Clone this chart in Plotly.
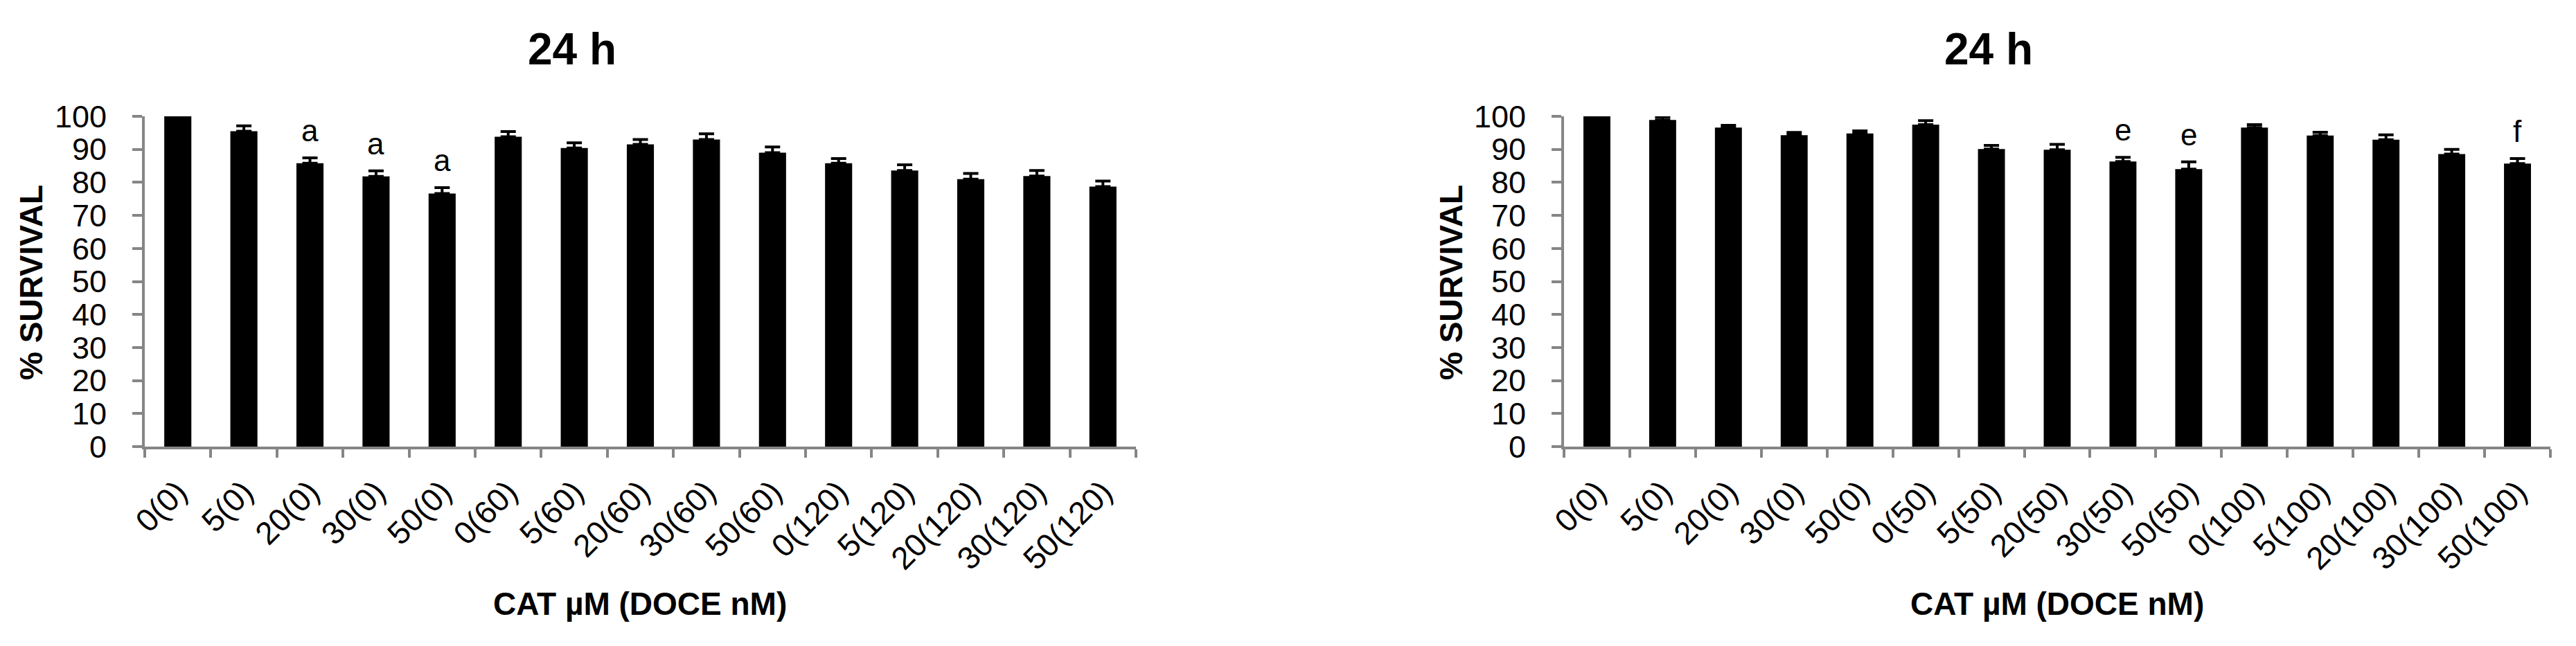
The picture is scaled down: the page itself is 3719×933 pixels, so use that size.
"""
PACKAGES & LIBRARY
"""
import plotly.graph_objects as go

# left panel: CAT uM (DOCE nM), DOCE 0 / 60 / 120
left_labels = ['0(0)', '5(0)', '20(0)', '30(0)', '50(0)',
               '0(60)', '5(60)', '20(60)', '30(60)', '50(60)',
               '0(120)', '5(120)', '20(120)', '30(120)', '50(120)']
left_values = [100, 95.5, 85.8, 81.8, 76.6, 93.8, 90.4, 91.5, 93.0, 89.0,
               85.8, 83.6, 81.0, 81.9, 78.7]
left_err = [0, 1.6, 1.6, 1.7, 1.8, 1.6, 1.6, 1.5, 1.7, 1.7,
            1.4, 1.7, 1.7, 1.7, 1.7]
left_letters = ['', '', 'a', 'a', 'a', '', '', '', '', '', '', '', '', '', '']

# right panel: DOCE 0 / 50 / 100
right_labels = ['0(0)', '5(0)', '20(0)', '30(0)', '50(0)',
                '0(50)', '5(50)', '20(50)', '30(50)', '50(50)',
                '0(100)', '5(100)', '20(100)', '30(100)', '50(100)']
right_values = [100, 98.9, 96.6, 94.3, 94.8, 97.5, 90.1, 89.9, 86.3, 84.0,
                96.6, 94.2, 92.9, 88.6, 85.7]
right_err = [0, 0.9, 0.7, 0.8, 0.8, 1.2, 1.1, 1.6, 1.3, 2.2,
             0.9, 1.0, 1.5, 1.4, 1.5]
right_letters = ['', '', '', '', '', '', '', '', 'e', 'e', '', '', '', '', 'f']

y_ticks = [0, 10, 20, 30, 40, 50, 60, 70, 80, 90, 100]

panel_title = '24 h'
y_title = '% SURVIVAL'
x_title = 'CAT \u00b5M (DOCE nM)'

W, H = 3719, 933
OFF = 8  # page body margin
FONT = 'Liberation Sans, Arial, sans-serif'
AXIS_GREY = '#868686'


def px_x(p):  # screen pixel -> paper
    return (p - OFF) / W


def px_y(p):
    return (H - (p - OFF)) / H


def add_panel(fig, labels, values, err, letters, xa, ya):
    fig.add_trace(go.Bar(
        x=labels, y=values,
        marker=dict(color='black', line=dict(width=0)),
        error_y=dict(type='data', array=err, arrayminus=[0] * len(err),
                     symmetric=False, color='black', thickness=4, width=11),
        xaxis=xa, yaxis=ya, showlegend=False))
    # significance letters above the error bars
    for lab, v, e, t in zip(labels, values, err, letters):
        if t:
            fig.add_annotation(x=lab, y=v + e, xref=xa, yref=ya, text=t,
                               showarrow=False, yanchor='bottom', yshift=13,
                               font=dict(family=FONT, size=44, color='black'))


fig = go.Figure()
add_panel(fig, left_labels, left_values, left_err, left_letters, 'x', 'y')
add_panel(fig, right_labels, right_values, right_err, right_letters, 'x2', 'y2')

xaxis_style = dict(type='category', showline=True, linecolor=AXIS_GREY, linewidth=4,
                   ticks='outside', tickson='boundaries', ticklen=12, tickwidth=4,
                   tickcolor=AXIS_GREY, tickangle=-45, showgrid=False, automargin=False,
                   tickfont=dict(family=FONT, size=46, color='black'),
                   ticklabelstandoff=16)
yaxis_style = dict(range=[0, 100], tickvals=y_ticks, showline=True, linecolor=AXIS_GREY,
                   linewidth=4, ticks='outside', ticklen=14, tickwidth=4,
                   tickcolor=AXIS_GREY, showgrid=False, zeroline=False, automargin=False,
                   tickfont=dict(family=FONT, size=45, color='black'),
                   ticklabelstandoff=28)

y_dom = [px_y(645), px_y(168)]
fig.update_layout(
    width=W, height=H,
    margin=dict(l=0, r=0, t=0, b=0, autoexpand=False),
    paper_bgcolor='white', plot_bgcolor='white',
    bargap=0.59,
    xaxis=dict(domain=[px_x(209), px_x(1640)], anchor='y', **xaxis_style),
    yaxis=dict(domain=y_dom, anchor='x', **yaxis_style),
    xaxis2=dict(domain=[px_x(2258), px_x(3682)], anchor='y2', **xaxis_style),
    yaxis2=dict(domain=y_dom, anchor='x2', **yaxis_style),
)

# titles, axis titles
for tx, ytx, xc in [(826, 45, 924), (2871, 2095, 2970)]:
    fig.add_annotation(x=px_x(tx), y=px_y(71), xref='paper', yref='paper',
                       text='<b>' + panel_title + '</b>', showarrow=False,
                       xanchor='center', yanchor='middle',
                       font=dict(family=FONT, size=64, color='black'))
    fig.add_annotation(x=px_x(ytx), y=px_y(408), xref='paper', yref='paper',
                       text='<b>' + y_title + '</b>', showarrow=False, textangle=-90,
                       xanchor='center', yanchor='middle',
                       font=dict(family=FONT, size=46, color='black'))
    fig.add_annotation(x=px_x(xc), y=px_y(872), xref='paper', yref='paper',
                       text='<b>' + x_title + '</b>', showarrow=False,
                       xanchor='center', yanchor='middle',
                       font=dict(family=FONT, size=46, color='black'))

fig.write_html("out.html")
